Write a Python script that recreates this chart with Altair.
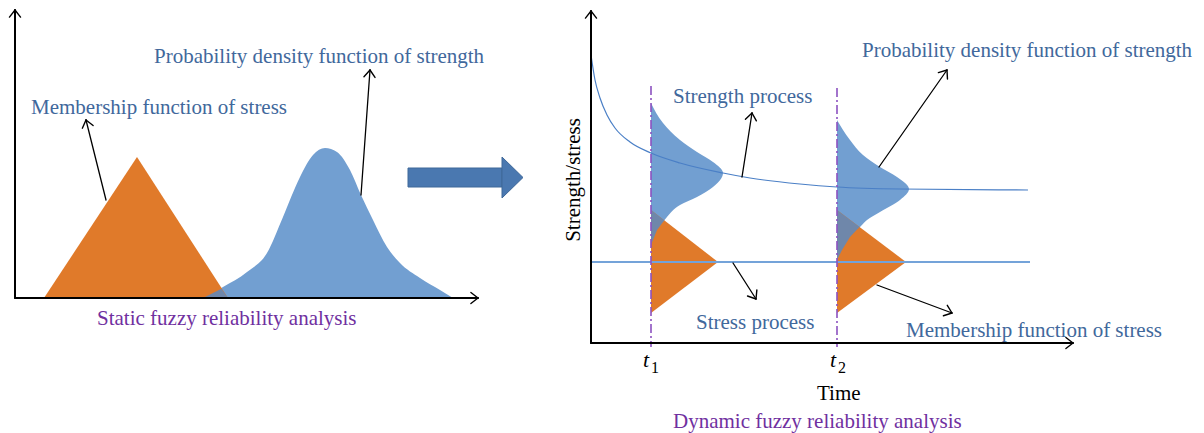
import math
import altair as alt
import pandas as pd

# ---------------- data (diagram units = reference pixels) ----------------
# Left panel: static analysis
static_tri_x = [44, 137, 228]
static_tri_y = [298, 157, 298]
static_pdf_x = [203, 223, 247, 267, 283, 300, 313, 325, 337, 350, 361, 373, 387, 400, 420, 440, 453]
static_pdf_y = [298, 287, 272, 253, 217, 177, 155, 148, 152, 170, 195, 220, 247, 263, 278, 290, 298]
static_overlap_x = [203, 221.5, 228]
static_overlap_y = [298, 288.8, 298]
static_base = 298

# Right panel: dynamic analysis
strength_t = [591, 595, 600, 607, 615, 630, 651, 680, 723, 750, 800, 837, 900, 1028]
strength_v = [55, 80, 98, 115, 128, 142, 153, 163, 173, 178, 184, 187, 189, 190]
stress_t = [592, 1030]
stress_v = [262, 262]

t_positions = [651, 837]
t_dash_top = [86, 88]
t_dash_bottom = 347

pdf1_y = [103, 123, 140, 152, 162, 173, 187, 197, 205, 217, 222, 230, 245]
pdf1_x = [651, 663, 680, 697, 713, 723, 713, 697, 680, 667, 663, 657, 651]
pdf2_y = [120, 140, 155, 167, 177, 189, 200, 212, 220, 226, 237, 250, 260]
pdf2_x = [837, 850, 863, 880, 897, 909, 900, 880, 867, 861, 850, 842, 837]

tri1_y = [210, 262, 313]
tri1_x = [651, 718, 651]
tri2_y = [210, 262, 313]
tri2_x = [837, 906, 837]

ov1_y = [210, 220.5, 222, 230, 245]
ov1_x = [651, 664.5, 663, 657, 651]
ov2_y = [210, 227, 237, 250, 260]
ov2_x = [837, 859.5, 850, 842, 837]

# Big transition arrow
big_body = dict(x=408, x2=502, y=168, y2=187)
big_head_x = [502, 523]
big_head_top = [157, 177.5]
big_head_bot = [198, 177.5]

# Arrows: (x0, y0) tail -> (x1, y1) head, width
arrows = [
    (15, 298, 15, 10, 2.0),      # left y axis
    (15, 298, 478, 298, 2.0),    # left x axis
    (106, 200, 86, 120, 1.3),    # membership (left)
    (361, 195, 370, 70, 1.3),    # pdf (left)
    (591, 343, 591, 11, 2.0),    # right y axis
    (591, 343, 1073, 343, 2.0),  # right x axis
    (742, 177, 752, 113, 1.3),   # strength process
    (879, 167, 947, 70, 1.3),    # pdf (right)
    (733, 263, 756, 299, 1.3),   # stress process
    (877, 285, 952, 313, 1.3),   # membership (right)
]

BLUE_TXT = "#41689c"
PURPLE = "#7030a0"
texts = [
    ("Probability density function of strength", 154, 57, BLUE_TXT),
    ("Membership function of stress", 31, 108, BLUE_TXT),
    ("Static fuzzy reliability analysis", 97, 319, PURPLE),
    ("Probability density function of strength", 862, 51, BLUE_TXT),
    ("Strength process", 673, 97, BLUE_TXT),
    ("Stress process", 696, 323, BLUE_TXT),
    ("Membership function of stress", 906, 331, BLUE_TXT),
    ("Time", 817, 394, "#000000"),
    ("Dynamic fuzzy reliability analysis", 673, 422, PURPLE),
]
t_labels = ["t", "t"]
t_label_x = [643, 830]
t_subs = ["1", "2"]
ylabel = ("Strength/stress", 574, 180)

# ---------------- helpers ----------------
W, H = 1188, 425
XS = alt.Scale(domain=[8, 8 + W], nice=False, zero=False)
YS = alt.Scale(domain=[8, 8 + H], nice=False, zero=False, reverse=True)


def X(f):
    return alt.X(f, type="quantitative", scale=XS, axis=None)


def Y(f):
    return alt.Y(f, type="quantitative", scale=YS, axis=None)


ORANGE = "#e07a2a"
BLUEFILL = "#729fd1"
OVERLAP = "#6f87aa"

layers = []

# left panel shapes
df_tri = pd.DataFrame({"x": static_tri_x, "y": static_tri_y, "b": static_base})
df_pdf = pd.DataFrame({"x": static_pdf_x, "y": static_pdf_y, "b": static_base})
df_ovl = pd.DataFrame({"x": static_overlap_x, "y": static_overlap_y, "b": static_base})
layers.append(alt.Chart(df_pdf).mark_area(orient="vertical", interpolate="monotone", color=BLUEFILL)
              .encode(x=X("x"), y=Y("y"), y2="b"))
layers.append(alt.Chart(df_tri).mark_area(orient="vertical", color=ORANGE)
              .encode(x=X("x"), y=Y("y"), y2="b"))
layers.append(alt.Chart(df_ovl).mark_area(orient="vertical", color=OVERLAP)
              .encode(x=X("x"), y=Y("y"), y2="b"))

# right panel shapes
for py, px, ty, tx, oy, ox, t0 in [
    (pdf1_y, pdf1_x, tri1_y, tri1_x, ov1_y, ov1_x, t_positions[0]),
    (pdf2_y, pdf2_x, tri2_y, tri2_x, ov2_y, ov2_x, t_positions[1]),
]:
    d1 = pd.DataFrame({"y": py, "x": px, "b": t0})
    d2 = pd.DataFrame({"y": ty, "x": tx, "b": t0})
    d3 = pd.DataFrame({"y": oy, "x": ox, "b": t0})
    layers.append(alt.Chart(d1).mark_area(orient="horizontal", interpolate="monotone", color=BLUEFILL)
                  .encode(y=Y("y"), x=X("x"), x2="b"))
    layers.append(alt.Chart(d2).mark_area(orient="horizontal", color=ORANGE)
                  .encode(y=Y("y"), x=X("x"), x2="b"))
    layers.append(alt.Chart(d3).mark_area(orient="horizontal", color=OVERLAP)
                  .encode(y=Y("y"), x=X("x"), x2="b"))

# strength / stress process lines
df_str = pd.DataFrame({"x": strength_t, "y": strength_v})
layers.append(alt.Chart(df_str).mark_line(interpolate="monotone", color="#4a7fc6", strokeWidth=1.2)
              .encode(x=X("x"), y=Y("y")))
df_sts = pd.DataFrame({"x": stress_t, "y": stress_v})
layers.append(alt.Chart(df_sts).mark_line(color="#74a3d9", strokeWidth=1.8)
              .encode(x=X("x"), y=Y("y")))

# dashed time markers
df_t = pd.DataFrame({"x": t_positions, "y": t_dash_top, "y2": t_dash_bottom})
layers.append(alt.Chart(df_t).mark_rule(color="#8c52c0", strokeWidth=1.6, strokeDash=[9, 3, 2, 3])
              .encode(x=X("x"), y=Y("y"), y2="y2"))

# big transition arrow
df_body = pd.DataFrame([big_body])
layers.append(alt.Chart(df_body).mark_rect(color="#4a78b0", stroke="#3f6899", strokeWidth=1)
              .encode(x=X("x"), x2="x2", y=Y("y"), y2="y2"))
df_head = pd.DataFrame({"x": big_head_x, "y": big_head_top, "y2": big_head_bot})
layers.append(alt.Chart(df_head).mark_area(orient="vertical", color="#4a78b0", stroke="#3f6899", strokeWidth=1)
              .encode(x=X("x"), y=Y("y"), y2="y2"))

# arrows with open heads
segs = []
for x0, y0, x1, y1, w in arrows:
    segs.append(dict(x=x0, y=y0, x2=x1, y2=y1, w=w))
    ang = math.atan2(y1 - y0, x1 - x0)
    L = 9
    for s in (1, -1):
        a = ang + math.pi + s * math.radians(38)
        segs.append(dict(x=x1, y=y1, x2=x1 + L * math.cos(a), y2=y1 + L * math.sin(a), w=1.4))
df_seg = pd.DataFrame(segs)
layers.append(alt.Chart(df_seg).mark_rule(color="#000000", strokeCap="round")
              .encode(x=X("x"), y=Y("y"), x2="x2", y2="y2",
                      strokeWidth=alt.StrokeWidth("w:Q", scale=None, legend=None)))

# texts
FONT = "Liberation Serif"
df_txt = pd.DataFrame(texts, columns=["t", "x", "y", "c"])
layers.append(alt.Chart(df_txt).mark_text(align="left", baseline="middle", font=FONT, fontSize=21)
              .encode(x=X("x"), y=Y("y"), text="t:N",
                      color=alt.Color("c:N", scale=None, legend=None)))

df_tl = pd.DataFrame({"t": t_labels, "x": t_label_x, "y": [360, 360]})
layers.append(alt.Chart(df_tl).mark_text(align="left", baseline="middle", font=FONT, fontSize=22,
                                         fontStyle="italic", color="#000000")
              .encode(x=X("x"), y=Y("y"), text="t:N"))
df_ts = pd.DataFrame({"t": t_subs, "x": [x + 8 for x in t_label_x], "y": [368, 368]})
layers.append(alt.Chart(df_ts).mark_text(align="left", baseline="middle", font=FONT, fontSize=16,
                                         color="#000000")
              .encode(x=X("x"), y=Y("y"), text="t:N"))

df_yl = pd.DataFrame([dict(t=ylabel[0], x=ylabel[1], y=ylabel[2])])
layers.append(alt.Chart(df_yl).mark_text(align="center", baseline="middle", font=FONT, fontSize=21,
                                         angle=270, color="#000000")
              .encode(x=X("x"), y=Y("y"), text="t:N"))

chart = (alt.layer(*layers)
         .properties(width=W, height=H, padding=0, autosize=alt.AutoSizeParams(type="none"),
                     background="#ffffff")
         .configure_view(strokeWidth=0))

chart.save("out.html", embed_options={"renderer": "svg", "actions": False})
